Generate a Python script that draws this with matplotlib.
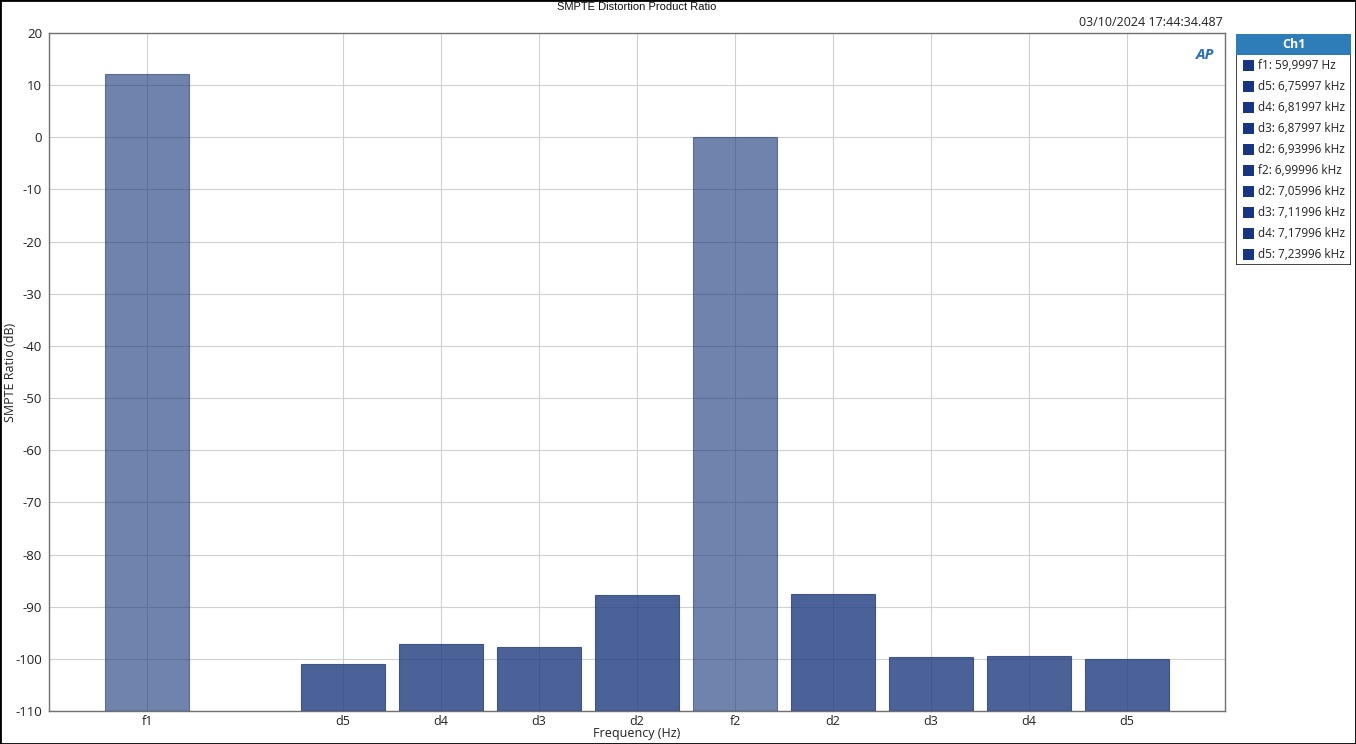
import matplotlib
matplotlib.use("Agg")
import matplotlib.pyplot as plt
from matplotlib.patches import Rectangle

plt.rcParams["axes.unicode_minus"] = False

# ---- data ----
categories = ["f1", "d5", "d4", "d3", "d2", "f2", "d2", "d3", "d4", "d5"]
positions = [0, 2, 3, 4, 5, 6, 7, 8, 9, 10]
values = [12.1, -100.9, -97.2, -97.7, -87.8, 0.0, -87.6, -99.7, -99.5, -100.0]
is_fundamental = [True, False, False, False, False, True, False, False, False, False]
legend_labels = ["f1: 59,9997 Hz", "d5: 6,75997 kHz", "d4: 6,81997 kHz",
                 "d3: 6,87997 kHz", "d2: 6,93996 kHz", "f2: 6,99996 kHz",
                 "d2: 7,05996 kHz", "d3: 7,11996 kHz", "d4: 7,17996 kHz",
                 "d5: 7,23996 kHz"]
y_ticks = list(range(-110, 21, 10))
title = "SMPTE Distortion Product Ratio"
timestamp = "03/10/2024 17:44:34.487"

W, H = 1356, 744
fig = plt.figure(figsize=(W / 100, H / 100), dpi=100)
FONT = ["Open Sans", "DejaVu Sans"]

def fx(px):
    return px / W

def fy(py):
    return 1 - py / H

# main axes: x 49..1225, y 33..711
ax = fig.add_axes([fx(49), fy(711), fx(1225 - 49), (711 - 33) / H])
base = "#1D3B7E"
for p, v, f in zip(positions, values, is_fundamental):
    ax.bar(p, v - (-110), bottom=-110, width=0.86, color=base,
           alpha=0.63 if f else 0.8, edgecolor="#2A3F70", linewidth=0.8,
           zorder=3)
ax.set_xlim(-1, 11)
ax.set_ylim(-110, 20)
ax.set_yticks(y_ticks)
ax.set_xticks(positions)
ax.set_xticklabels(categories, fontfamily=FONT, fontsize=9, color="#222222")
for lbl in ax.get_yticklabels():
    lbl.set_fontfamily(FONT)
    lbl.set_fontsize(9.5)
    lbl.set_color("#222222")
ax.tick_params(axis="y", length=0, pad=5)
ax.tick_params(axis="x", length=0, pad=3)
ax.grid(True, color="#D0D0D0", linewidth=0.8, zorder=1)
ax.set_axisbelow(True)
for s in ax.spines.values():
    s.set_color("#707070")
    s.set_linewidth(1.0)

fig.text(fx(637), fy(733), "Frequency (Hz)", ha="center", va="center",
         fontfamily=FONT, fontsize=9, color="#222222")
fig.text(fx(11), fy(372), "SMPTE Ratio (dB)", ha="center", va="center",
         rotation=90, fontfamily=FONT, fontsize=9, color="#222222")

# AP logo approximation
ax.text(0.991, 0.978, "AP", transform=ax.transAxes, ha="right", va="top",
        fontsize=11, fontweight="bold", fontstyle="italic", color="#2A6EBB",
        fontfamily=FONT)

# title and timestamp
fig.text(fx(637), fy(7), title, ha="center", va="center", fontsize=8,
         fontfamily=["Liberation Sans", "DejaVu Sans"], color="#111111")
fig.text(fx(1223), fy(22), timestamp, ha="right", va="center", fontsize=9,
         fontfamily=FONT, color="#222222")

# legend panel
lg = fig.add_axes([fx(1236), fy(265), fx(1351 - 1236), (265 - 34) / H])
lg.set_xlim(0, 115)
lg.set_ylim(231, 0)
lg.axis("off")
lg.add_patch(Rectangle((0, 0), 115, 231, facecolor="white", edgecolor="#222222",
                       linewidth=1.2, zorder=1))
lg.add_patch(Rectangle((0, 0), 115, 21, facecolor="#2F7DB8", edgecolor="none",
                       zorder=2))
lg.text(57.5, 10.5, "Ch1", ha="center", va="center", fontsize=9,
        fontweight="bold", color="white", fontfamily=FONT, zorder=3)
for i, lab in enumerate(legend_labels):
    yc = 31.5 + i * 21
    lg.add_patch(Rectangle((7, yc - 5.5), 11, 11, facecolor="#173580",
                           edgecolor="none", zorder=3))
    lg.text(22, yc, lab, ha="left", va="center", fontsize=8.5,
            fontfamily=FONT, color="#222222", zorder=3)

# figure border
fig.add_artist(Rectangle((0, 0), 1, 1, transform=fig.transFigure, fill=False,
                         edgecolor="black", linewidth=2))

fig.savefig("out.png", dpi=100)
